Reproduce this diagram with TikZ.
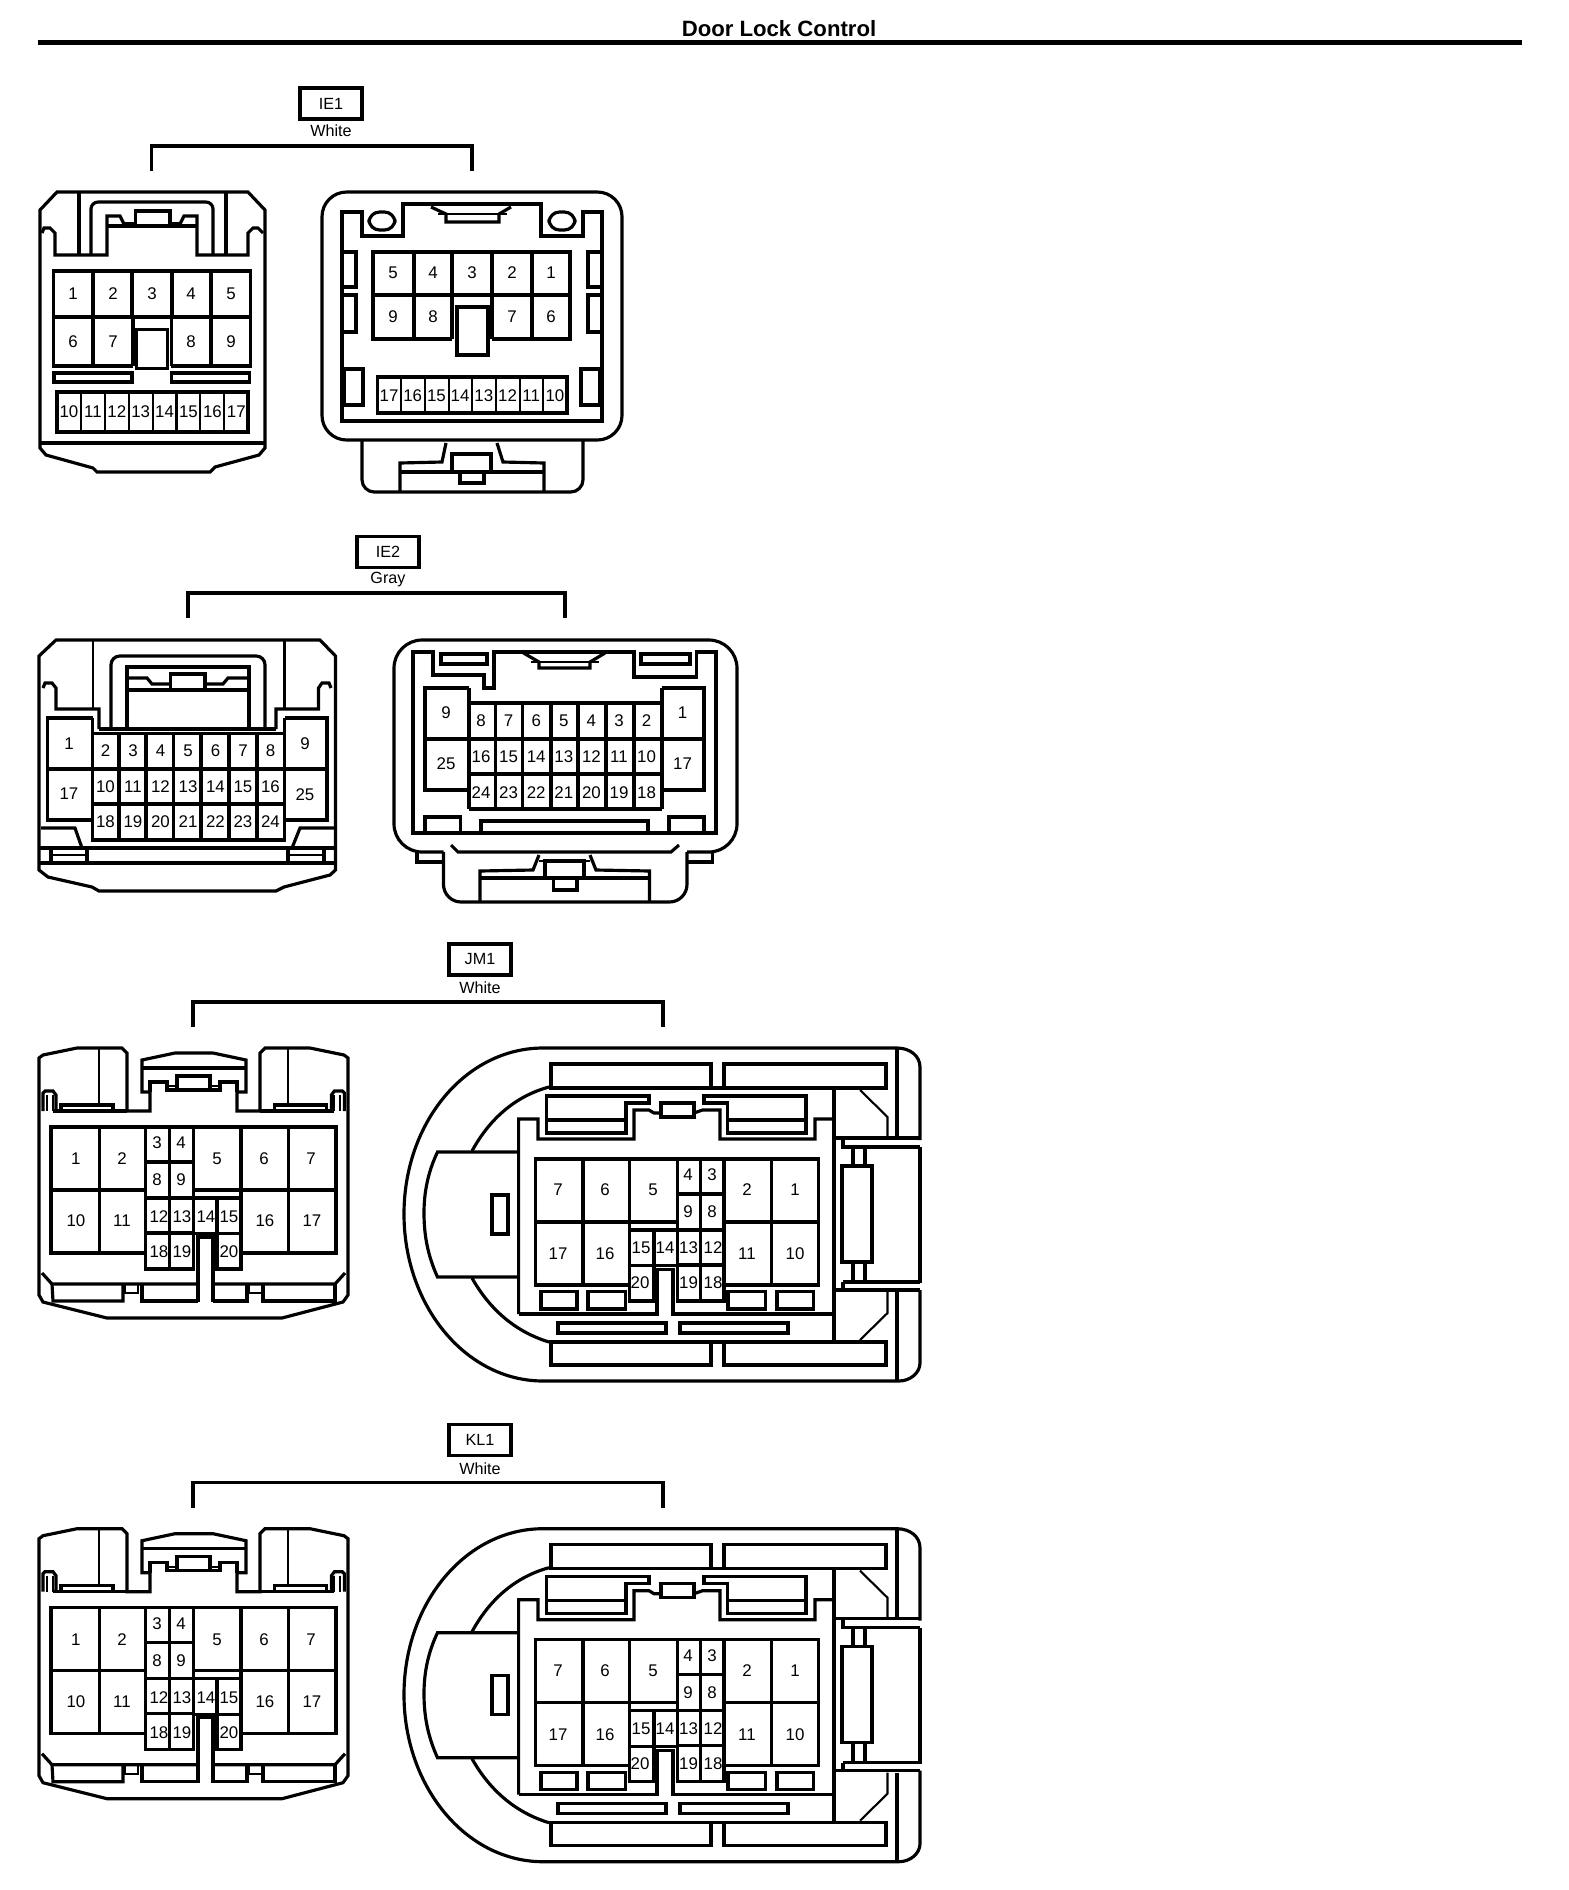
\documentclass[tikz,border=0pt]{standalone}
\usepackage{fontspec}
\setmainfont{Liberation Sans}
\tikzset{
  conn/.style={line width=0.9pt},
  thinconn/.style={line width=0.6pt},
  pin/.style={inner sep=0pt,yshift=-0.3pt,font=\fontsize{4.8}{5}\selectfont},
  tagbox/.style={draw,line width=0.9pt,minimum width=0.62cm,minimum height=0.31cm,inner sep=0pt,font=\fontsize{4.6}{5}\selectfont},
  colorlabel/.style={inner sep=0pt,font=\fontsize{4.6}{5}\selectfont},
  bracket/.style={line width=1pt},
}
% mating face with the small centre block, wide housing
\newcommand{\JMleft}[1]{%
  \draw[conn] (39,1058) -- (43,1055) -- (77,1048) -- (122,1048) -- (127,1053) -- (127,1111) -- (150,1111) -- (150,1092) -- (142,1092) -- (142,1060) -- (175,1053) -- (213,1053) -- (246,1060) -- (246,1092) -- (237,1092) -- (237,1111) -- (260,1111) -- (260,1053) -- (265,1048) -- (310,1048) -- (344,1055) -- (348,1058) -- (348,1295) -- (343,1302) -- (282,1318) -- (107,1318) -- (43,1302) -- (39,1295) -- cycle;
  % latch
  \draw[conn] (143,1068) -- (245,1068);
  \draw[conn] (150,1092) -- (150,1082) -- (167,1082) -- (167,1090) -- (177,1090);
  \draw[conn] (177,1076) rectangle (210,1090);
  \draw[conn] (210,1090) -- (220,1090) -- (220,1082) -- (237,1082) -- (237,1092);
  \draw[thinconn] (167,1086) -- (177,1086);
  \draw[thinconn] (210,1086) -- (220,1086);
  % wings
  \draw[thinconn] (99,1048) -- (99,1105);
  \draw[thinconn] (288.4,1048) -- (288.4,1105);
  \draw[conn] (53,1111) -- (127,1111);
  \draw[conn] (260,1111) -- (334.4,1111);
  \draw[conn] (43,1111) -- (43,1093) -- (45,1091) -- (53,1091) -- (56,1095) -- (56,1111);
  \draw[conn] (344.4,1111) -- (344.4,1093) -- (342.4,1091) -- (334.4,1091) -- (331.4,1095) -- (331.4,1111);
  \draw[thinconn] (47,1095) -- (47,1111);
  \draw[thinconn] (53,1095) -- (53,1111);
  \draw[thinconn] (340.4,1095) -- (340.4,1111);
  \draw[thinconn] (334.4,1095) -- (334.4,1111);
  \draw[conn] (61,1111) -- (61,1105) -- (113,1105) -- (113,1111);
  \draw[conn] (326.4,1111) -- (326.4,1105) -- (274.4,1105) -- (274.4,1111);
  % cavities
  \draw[conn] (145.7,1253) -- (51,1253) -- (51,1127) -- (336,1127) -- (336,1253) -- (241,1253);
  \draw[conn] (51,1190) -- (145.7,1190);
  \draw[conn] (193.3,1190) -- (336,1190);
  \draw[conn] (99.5,1127) -- (99.5,1253);
  \draw[conn] (288.3,1127) -- (288.3,1253);
  \draw[conn] (145.7,1127) -- (145.7,1269) -- (193.3,1269) -- (193.3,1127);
  \draw[conn] (169.3,1127) -- (169.3,1269);
  \foreach \y in {1162,1198,1233}
    \draw[conn] (145.7,\y) -- (193.3,\y);
  \draw[conn] (241,1127) -- (241,1269) -- (217,1269) -- (217,1198);
  \draw[conn] (193.3,1198) -- (241,1198);
  \draw[conn] (193.3,1233.5) -- (241,1233.5);
  \draw[conn] (198,1302) -- (198,1237) -- (213,1237) -- (213,1302);
  % bottom pockets
  \draw[conn] (42,1273) -- (52,1284) -- (198,1284);
  \draw[conn] (345,1273) -- (335,1284) -- (213,1284);
  \draw[conn] (52,1284) -- (53,1301) -- (123,1301) -- (123,1284);
  \draw[thinconn] (125,1284) -- (125,1293) -- (138,1293) -- (138,1284);
  \draw[conn] (142,1284) -- (142,1301) -- (198,1301);
  \draw[conn] (213,1301) -- (247,1301) -- (247,1284);
  \draw[thinconn] (249,1284) -- (249,1293) -- (262,1293) -- (262,1284);
  \draw[conn] (263,1284) -- (263,1301) -- (335,1301) -- (335,1284);
  \foreach \n/\x/\y in {1/75.7/1158,2/122/1158,3/157/1142,4/181/1142,5/217/1158,6/264/1158,7/311/1158,8/157/1179,9/181/1179,10/76/1220,11/122/1220,12/159/1216,13/182/1216,14/206/1216,15/229/1216,16/265/1220,17/312/1220,18/159/1251,19/182/1251,20/229/1251}
    \node[pin] (#1\n) at (\x,\y) {\n};
}
% other side: rounded shell with the grip on its left
\newcommand{\JMright}[1]{%
  \draw[conn] (920,1140) -- (920,1067) .. controls (920,1056) and (910,1048) .. (897,1048) -- (543,1048) .. controls (466,1048) and (404,1122) .. (404,1214) .. controls (404,1306) and (466,1381) .. (543,1381) -- (899,1381) .. controls (910,1381) and (920,1373) .. (920,1363) -- (920,1290);
  \draw[conn] (920,1147) -- (920,1283);
  % grip and inner arc
  \draw[conn] (518.6,1152) -- (437.5,1152) .. controls (428,1172) and (424,1192) .. (424,1213) .. controls (424,1236) and (428,1256) .. (437.5,1277) -- (518.6,1277);
  \draw[conn] (472,1151) .. controls (490,1118) and (516,1096) .. (549,1087);
  \draw[conn] (472,1278) .. controls (490,1310) and (516,1332) .. (549,1342);
  \draw[conn] (492,1195) rectangle (508,1234);
  % long slots
  \draw[conn] (551,1064) rectangle (711,1088);
  \draw[conn] (724,1064) rectangle (886,1088);
  \draw[conn] (551,1342) rectangle (711,1365);
  \draw[conn] (724,1342) rectangle (886,1365);
  \draw[conn] (711,1088) -- (724,1088);
  \draw[conn] (711,1342) -- (724,1342);
  \draw[conn] (558,1323) rectangle (666,1333);
  \draw[conn] (680,1323) rectangle (788,1333);
  % right end
  \draw[conn] (834,1088) -- (834,1342);
  \draw[thinconn] (860,1090) -- (887.5,1117) -- (887.5,1138);
  \draw[thinconn] (887.5,1292) -- (887.5,1313) -- (860,1340);
  \draw[conn] (897,1048) -- (897,1138);
  \draw[conn] (897,1292) -- (897,1381);
  \draw[conn] (834,1138) -- (920,1138);
  \draw[conn] (843,1138) -- (843,1147) -- (920,1147);
  \draw[conn] (843,1282) -- (920,1282);
  \draw[conn] (843,1282) -- (843,1290);
  \draw[conn] (834,1290) -- (920,1290);
  \draw[conn] (842,1166) rectangle (872,1262);
  \foreach \x in {853,865} {
    \draw[conn] (\x,1147) -- (\x,1166);
    \draw[conn] (\x,1262) -- (\x,1282);
  }
  % body
  \draw[conn] (518.6,1314) -- (518.6,1119) -- (538,1119) -- (538,1139) -- (634,1139) -- (634,1110) -- (649,1110) -- (654,1113) -- (661,1113);
  \draw[conn] (694,1113) -- (702.5,1110) -- (720,1110) -- (720,1139) -- (815,1139) -- (815,1119) -- (834,1119);
  \draw[conn] (518.6,1314) -- (657,1314) -- (657,1269.5) -- (673,1269.5) -- (673,1314) -- (834,1314);
  \draw[conn] (661,1103) rectangle (694,1117);
  \draw[conn] (546.4,1096) -- (649,1096) -- (649,1103) -- (626,1103) -- (626,1133) -- (546.4,1133) -- cycle;
  \draw[conn] (806,1096) -- (704,1096) -- (704,1103) -- (727.5,1103) -- (727.5,1133) -- (806,1133) -- cycle;
  \draw[conn] (546.4,1120) -- (626,1120);
  \draw[conn] (727.5,1120) -- (806,1120);
  % cavities
  \draw[conn] (629.3,1285) -- (535.4,1285) -- (535.4,1159) -- (818.6,1159) -- (818.6,1285) -- (724,1285);
  \draw[conn] (535.4,1222) -- (677.5,1222);
  \draw[conn] (724,1222) -- (818.6,1222);
  \draw[conn] (583,1159) -- (583,1285);
  \draw[conn] (771.4,1159) -- (771.4,1285);
  \draw[conn] (629.3,1159) -- (629.3,1301) -- (654,1301) -- (654,1230);
  \draw[conn] (677.5,1159) -- (677.5,1301) -- (724,1301) -- (724,1159);
  \draw[conn] (700.7,1159) -- (700.7,1301);
  \foreach \y in {1194,1230,1265}
    \draw[conn] (677.5,\y) -- (724,\y);
  \draw[conn] (629.3,1230) -- (677.5,1230);
  \draw[conn] (629.3,1265.5) -- (677.5,1265.5);
  \draw[conn] (541,1291.5) rectangle (577,1309);
  \draw[conn] (588,1291.5) rectangle (625.5,1309);
  \draw[conn] (728,1291.5) rectangle (765.5,1309);
  \draw[conn] (777,1291.5) rectangle (813.5,1309);
  \foreach \n/\x/\y in {7/558/1189,6/605/1189,5/653/1189,4/688/1174,3/712/1174,2/747/1189,1/795/1189,9/688/1211,8/712/1211,17/558/1253,16/605/1253,15/641/1247,14/665/1247,13/688.6/1247,12/713/1247,11/747/1253,10/795/1253,20/640/1282,19/688.6/1282,18/713/1282}
    \node[pin] (#1\n) at (\x,\y) {\n};
}
\begin{document}
\begin{tikzpicture}[x=0.01cm,y=-0.01cm]
  \useasboundingbox (0,0) rectangle (1568,1890);
  \node[inner sep=0pt,font=\fontsize{6.3}{7}\bfseries\selectfont] (title) at (779,29) {Door Lock Control};
  \draw[line width=1.4pt] (37.5,42.5) -- (1522,42.5);

  % IE1
  \node[tagbox] (tagIEa) at (331,103.5) {IE1};
  \node[colorlabel] (colIEa) at (331,131) {White};
  \coordinate (ieaL) at (151.5,171);
  \coordinate (ieaR) at (472,171);
  \draw[bracket] (ieaL) -- ++(0,-25) -| (ieaR);
  % IE1 left
  \draw[conn] (57,192) -- (248,192) -- (265,210) -- (265,448) -- (259,455) -- (215,467) -- (210,472) -- (97,472) -- (93,468) -- (46,455) -- (40,448) -- (40,210) -- cycle;
  \draw[conn] (40,443) -- (265,443);
  \draw[conn] (42,233) -- (44,228) -- (50,228) -- (55,233) -- (55,255) -- (107,255) -- (107,216) -- (120,216) -- (125,226);
  \draw[conn] (263,233) -- (258,228) -- (253,228) -- (248,233) -- (248,255) -- (197,255) -- (197,216) -- (184,216) -- (179,226);
  \draw[conn] (79,192) -- (79,255);
  \draw[conn] (226,192) -- (226,255);
  \draw[conn,rounded corners=2pt] (91,255) -- (91,202) -- (213,202) -- (213,255);
  \draw[conn] (107,226) -- (197,226);
  \draw[conn] (135.5,211) rectangle (170,226);
  \draw[thinconn] (125,223) -- (135.5,223);
  \draw[thinconn] (170,223) -- (179,223);
  \draw[conn] (133,366) -- (53.5,366) -- (53.5,271) -- (250.5,271) -- (250.5,366) -- (171.4,366);
  \draw[conn] (53.5,317) -- (250.5,317);
  \foreach \x in {93,132,172,211}
    \draw[conn] (\x,271) -- (\x,317);
  \foreach \x in {93,133,171.4,211}
    \draw[conn] (\x,317) -- (\x,366);
  \draw[conn] (136.7,329.5) rectangle (167.5,368.5);
  \draw[conn] (54,373) rectangle (132,382);
  \draw[conn] (171.5,373) rectangle (249.5,382);
  \draw[conn] (57,392) rectangle (248,432);
  \foreach \i in {1,...,7}
    \draw[thinconn] ({57+\i*23.9},392) -- ({57+\i*23.9},432);
  \foreach \n/\x/\y in {1/73/293,2/113/293,3/152/293,4/191/293,5/231/293,6/73/341,7/113/341,8/191/341,9/231/341}
    \node[pin] (ieaA\n) at (\x,\y) {\n};
  \foreach \n in {10,...,17}
    \node[pin] (ieaA\n) at ({69+(\n-10)*23.9},411) {\n};
  % IE1 right
  \draw[conn,rounded corners=7pt] (322,192) rectangle (622,440);
  \draw[conn,rounded corners=3.5pt] (362,440) -- (362,492) -- (583,492) -- (583,440);
  \draw[conn] (342,212) -- (362,212) -- (362,236) -- (403,236) -- (403,204) -- (541,204) -- (541,236) -- (583,236) -- (583,212) -- (602,212) -- (602,421) -- (342,421) -- cycle;
  \draw[conn,rounded corners=3pt] (369,212) rectangle (395,230);
  \draw[conn,rounded corners=3pt] (549,212) rectangle (575,230);
  \draw[conn] (431,207) -- (446,214) -- (446,222) -- (499,222) -- (499,214) -- (511,207);
  \draw[thinconn] (438,214) -- (507,214);
  \draw[conn] (342,252) rectangle (356,287);
  \draw[conn] (342,295) rectangle (356,332);
  \draw[conn] (344,369) rectangle (363,405);
  \draw[conn] (588,252) rectangle (602,287);
  \draw[conn] (588,295) rectangle (602,332);
  \draw[conn] (581,369) rectangle (600,405);
  \draw[conn] (452,339) -- (373,339) -- (373,252) -- (570,252) -- (570,339) -- (492,339);
  \draw[conn] (373,295) -- (570,295);
  \foreach \x in {414,452,492,532}
    \draw[conn] (\x,252) -- (\x,339);
  \draw[conn] (457,307) rectangle (488,355);
  \draw[conn] (377.5,377) rectangle (567,413);
  \foreach \i in {1,...,7}
    \draw[thinconn] ({377.5+\i*23.7},377) -- ({377.5+\i*23.7},413);
  \foreach \n/\x/\y in {5/393/272,4/433/272,3/472/272,2/512/272,1/551/272,9/393/316,8/433/316,7/512/316,6/551/316}
    \node[pin] (ieaB\n) at (\x,\y) {\n};
  \foreach \n in {10,...,17}
    \node[pin] (ieaB\n) at ({389+(17-\n)*23.7},395) {\n};
  \draw[conn] (446,443) -- (442,462) -- (400,463) -- (400,492);
  \draw[conn] (497,443) -- (503,462) -- (544,463) -- (544,492);
  \draw[conn] (400,472) -- (544,472);
  \draw[conn] (452,472) -- (452,454) -- (491,454) -- (491,472);
  \draw[conn] (460,472) rectangle (484,483);

  % IE2
  \node[tagbox] (tagIEb) at (388,552) {IE2};
  \node[colorlabel] (colIEb) at (388,579.5) {Gray};
  \coordinate (iebL) at (188,618);
  \coordinate (iebR) at (565,618);
  \draw[bracket] (iebL) -- ++(0,-25) -| (iebR);
  % IE2 left
  \draw[conn] (56,640) -- (320,640) -- (335.5,656) -- (335.5,870) -- (330,875) -- (284,887) -- (276,891) -- (99,891) -- (92,887) -- (48,877) -- (39,870) -- (39,656) -- cycle;
  \draw[conn] (43,688) -- (45,683) -- (52,683) -- (56,688) -- (56,709) -- (99,709) -- (99,729);
  \draw[conn] (331,688) -- (329,683) -- (322,683) -- (318.5,688) -- (318.5,709) -- (276,709) -- (276,729);
  \draw[conn] (99,729) -- (276,729);
  \draw[thinconn] (92.7,640) -- (92.7,709);
  \draw[thinconn] (284.5,640) -- (284.5,709);
  \draw[conn,rounded corners=2.5pt] (111,729) -- (111,656) -- (265,656) -- (265,729);
  \draw[conn] (127,729) -- (127,667) -- (249,667) -- (249,729);
  \draw[conn] (127,690) -- (249,690);
  \draw[conn] (170.6,674) rectangle (205,690);
  \draw[conn] (127,678) -- (147,678) -- (152,684) -- (170.6,684);
  \draw[conn] (249,678) -- (228,678) -- (223,684) -- (205,684);
  \draw[conn] (92.7,718) -- (47.5,718) -- (47.5,820) -- (92.7,820);
  \draw[conn] (47.5,769) -- (92,769);
  \draw[conn] (284.5,718) -- (327,718) -- (327,820) -- (284.5,820);
  \draw[conn] (284.5,769) -- (327,769);
  \draw[conn] (92.7,718) -- (92.7,733);
  \draw[conn] (284.5,718) -- (284.5,733);
  \draw[conn] (92.7,733.5) rectangle (284.5,840);
  \foreach \x in {119,146,173.5,201,229,257}
    \draw[conn] (\x,733.5) -- (\x,840);
  \foreach \y in {769,804}
    \draw[conn] (92.7,\y) -- (284.5,\y);
  \draw[conn] (41,828) -- (75,828) -- (82,848);
  \draw[conn] (335,828) -- (300,828) -- (292,848);
  \draw[conn] (39,848) -- (335.5,848);
  \draw[conn] (39,863) -- (335.5,863);
  \draw[conn] (51,848) -- (51,863);
  \draw[conn] (87,848) -- (87,863);
  \draw[conn] (288,848) -- (288,863);
  \draw[conn] (324,848) -- (324,863);
  \draw[thinconn] (51,855) -- (87,855);
  \draw[thinconn] (288,855) -- (324,855);
  \foreach \n/\x/\y in {1/69/743,17/69/793,9/305/743,25/305/794}
    \node[pin] (iebA\n) at (\x,\y) {\n};
  \foreach \n in {2,...,8}
    \node[pin] (iebA\n) at ({105.5+(\n-2)*27.5},750) {\n};
  \foreach \n in {10,...,16}
    \node[pin] (iebA\n) at ({105.5+(\n-10)*27.5},786) {\n};
  \foreach \n in {18,...,24}
    \node[pin] (iebA\n) at ({105.5+(\n-18)*27.5},821) {\n};
  % IE2 right
  \draw[conn,rounded corners=8pt] (443.5,852) -- (394,852) -- (394,640) -- (737,640) -- (737,852) -- (687,852);
  \draw[conn] (417,852) -- (417,862) -- (443.5,862);
  \draw[conn] (712.5,852) -- (712.5,862) -- (687,862);
  \draw[conn,rounded corners=5pt] (443.5,852) -- (443.5,902) -- (687,902) -- (687,852);
  \draw[conn] (451,845) -- (458,852) -- (671,852) -- (679,845);
  \draw[conn] (413,833) -- (413,652) -- (433,652) -- (433,675) -- (484,675) -- (484,688) -- (494,688) -- (494,652) -- (634,652) -- (634,677) -- (696.5,677) -- (696.5,652) -- (716,652) -- (716,833) -- cycle;
  \draw[conn] (441,654) rectangle (487,664);
  \draw[conn] (641,654) rectangle (690,664);
  \draw[conn] (523.5,653) -- (539,662) -- (539,668) -- (590,668) -- (590,662) -- (605,653);
  \draw[thinconn] (531,662) -- (599,662);
  \draw[conn] (469,688) -- (425,688) -- (425,790) -- (469,790);
  \draw[conn] (425,739) -- (469,739);
  \draw[conn] (662,688) -- (704,688) -- (704,790) -- (662,790);
  \draw[conn] (662,739) -- (704,739);
  \draw[conn] (469,688) -- (469,809);
  \draw[conn] (662,688) -- (662,809);
  \draw[conn] (469,703) -- (662,703);
  \draw[conn] (469,809) -- (662,809);
  \foreach \x in {495.4,522.5,551,578,606,634}
    \draw[conn] (\x,703) -- (\x,809);
  \foreach \y in {739,774}
    \draw[conn] (469,\y) -- (662,\y);
  \draw[conn] (425,833) -- (425,817) -- (460.5,817) -- (460.5,833);
  \draw[conn] (669,833) -- (669,817) -- (704,817) -- (704,833);
  \draw[conn] (481,833) -- (481,821) -- (648,821) -- (648,833);
  \draw[conn] (539,855) -- (533,870) -- (480,871) -- (480,902);
  \draw[conn] (590,855) -- (596,870) -- (649.5,871) -- (649.5,902);
  \draw[conn] (480,878) -- (649.5,878);
  \draw[conn] (545,878) -- (545,861) -- (584,861) -- (584,878);
  \draw[thinconn] (539,861) -- (590,861);
  \draw[conn] (553.5,878) rectangle (577,890);
  \foreach \n/\x/\y in {9/446/712,25/446/763,1/682.5/712,17/682.5/763}
    \node[pin] (iebB\n) at (\x,\y) {\n};
  \foreach \n in {2,...,8}
    \node[pin] (iebB\n) at ({481+(8-\n)*27.6},720) {\n};
  \foreach \n in {10,...,16}
    \node[pin] (iebB\n) at ({481+(16-\n)*27.6},756) {\n};
  \foreach \n in {18,...,24}
    \node[pin] (iebB\n) at ({481+(24-\n)*27.6},792) {\n};

  % JM1
  \node[tagbox] (tagJM) at (480,959.5) {JM1};
  \node[colorlabel] (colJM) at (480,988) {White};
  \coordinate (jmL) at (193,1027);
  \coordinate (jmR) at (663,1027);
  \draw[bracket] (jmL) -- ++(0,-25) -| (jmR);
  \JMleft{jmA}
  \JMright{jmB}

  % KL1
  \begin{scope}[shift={(0,480.7)}]
    \node[tagbox] (tagKL) at (480,959.5) {KL1};
    \node[colorlabel] (colKL) at (480,988) {White};
    \coordinate (klL) at (193,1027);
    \coordinate (klR) at (663,1027);
    \draw[bracket] (klL) -- ++(0,-25) -| (klR);
    \JMleft{klA}
    \JMright{klB}
  \end{scope}
\end{tikzpicture}
\end{document}
